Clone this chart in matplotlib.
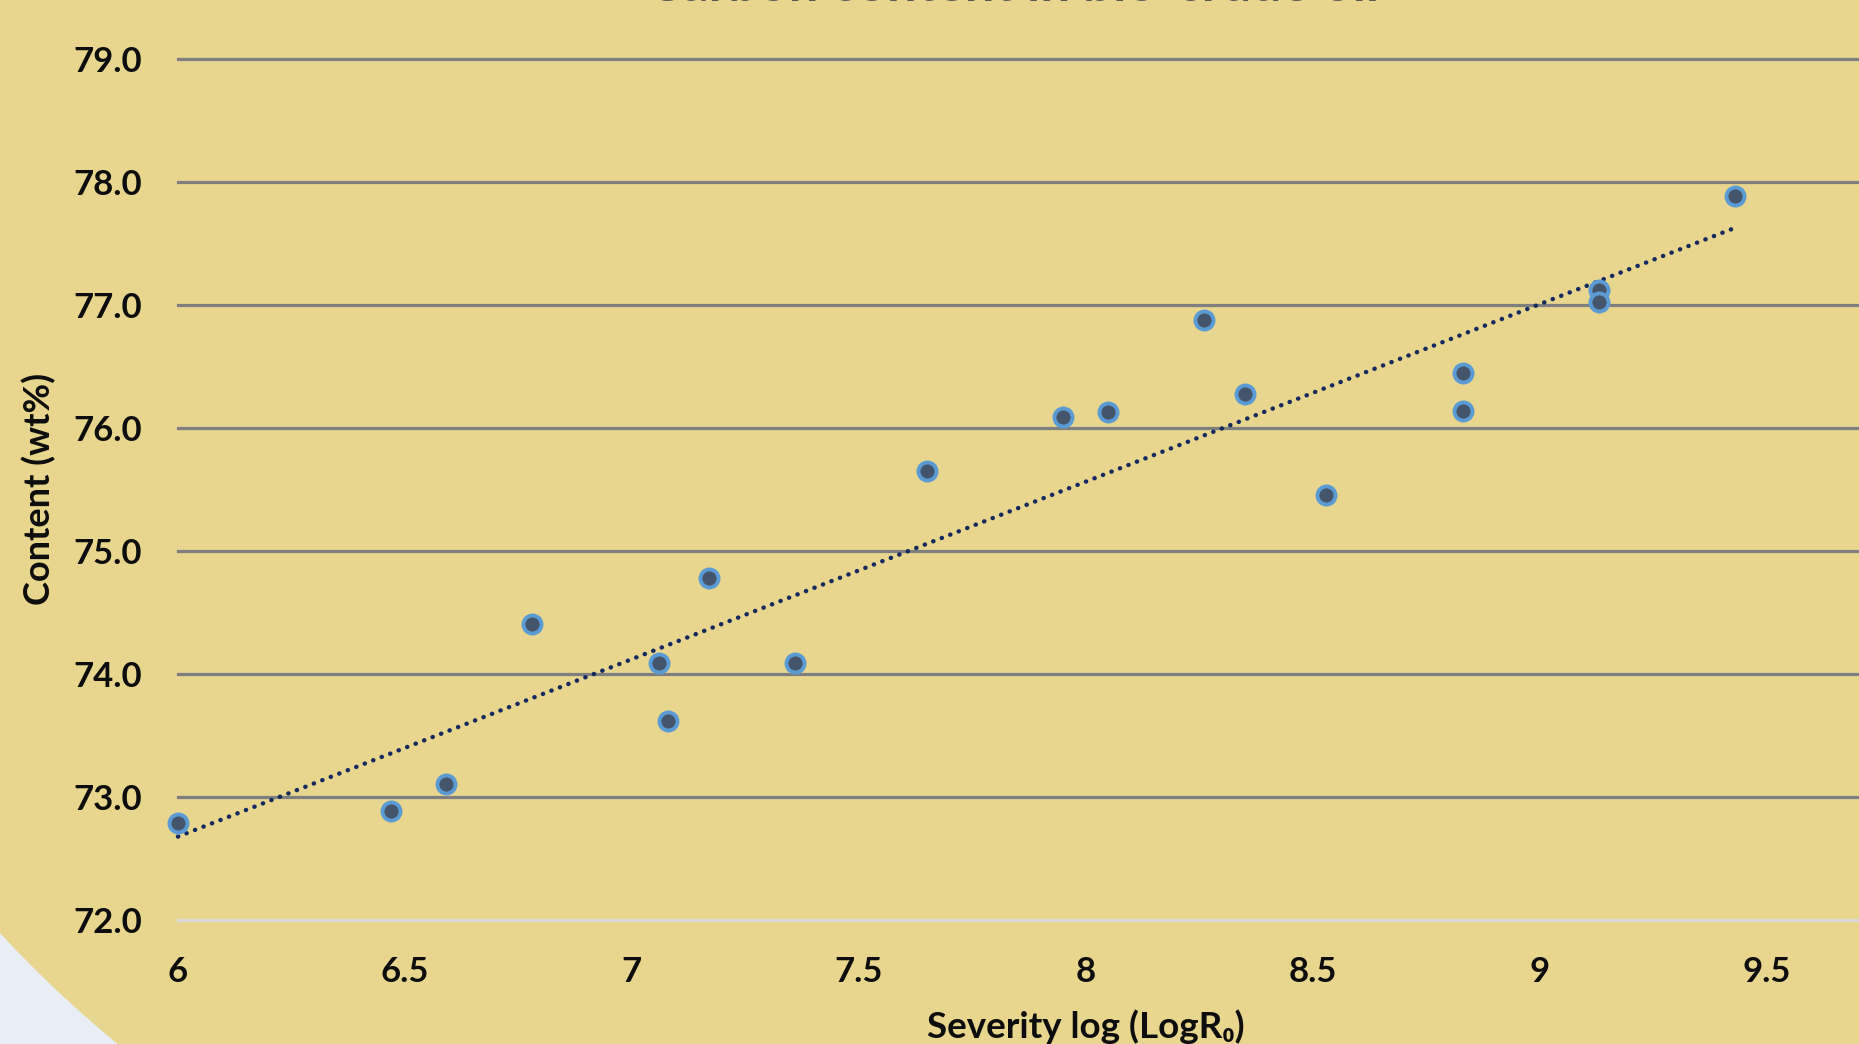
import numpy as np
import matplotlib
matplotlib.use("Agg")
import matplotlib.pyplot as plt
from matplotlib.patches import Ellipse

# ---- data ----
severity = [6.00, 6.47, 6.59, 6.78, 7.06, 7.08, 7.17, 7.36, 7.65, 7.95,
            8.05, 8.26, 8.35, 8.53, 8.83, 8.83, 9.13, 9.13, 9.43]
carbon = [72.79, 72.89, 73.11, 74.41, 74.09, 73.62, 74.78, 74.09, 75.65, 76.09,
          76.13, 76.88, 76.28, 75.46, 76.45, 76.14, 77.12, 77.03, 77.89]
x_ticks = [6, 6.5, 7, 7.5, 8, 8.5, 9, 9.5]
x_tick_labels = ["6", "6.5", "7", "7.5", "8", "8.5", "9", "9.5"]
y_ticks = [72.0, 73.0, 74.0, 75.0, 76.0, 77.0, 78.0, 79.0]
title = "Carbon content in bio-crude oil"
x_label = "Severity log (LogR\u2080)"
y_label = "Content (wt%)"

W, H = 1859, 1044
plt.rcParams['font.family'] = ['Lato', 'DejaVu Sans']
fig = plt.figure(figsize=(W / 100, H / 100), dpi=100)
fig.patch.set_facecolor("#e9edf5")

# big yellow ellipse of the slide background
ell = Ellipse((1100 / W, 1 - 300 / H), 2 * 1361 / W, 2 * 1075 / H,
              transform=fig.transFigure, facecolor="#e8d68e", edgecolor="none", zorder=-10)
fig.patches.append(ell)

left = 178 / W
bottom = (H - 920) / H
top = (H - 59.3) / H
ax = fig.add_axes([left, bottom, 1 - left, top - bottom])
ax.set_zorder(1)
ax.set_facecolor("none")
ax.patch.set_alpha(0)
ax.set_xlim(6, 6 + (W - 178) / 453.9)
ax.set_ylim(72, 79)
for s in ax.spines.values():
    s.set_visible(False)

for yv in y_ticks:
    col = "#d9d9d9" if yv == y_ticks[0] else "#7f7f7f"
    ax.axhline(yv, color=col, lw=2.3, clip_on=False, zorder=1)

ax.set_xticks(x_ticks)
ax.set_xticklabels(x_tick_labels)
ax.set_yticks(y_ticks)
ax.set_yticklabels([f"{v:.1f}" for v in y_ticks])
ax.tick_params(axis="x", length=0, pad=26, labelsize=25)
ax.tick_params(axis="y", length=0, pad=26, labelsize=25)
for lab in ax.get_xticklabels() + ax.get_yticklabels():
    lab.set_fontweight("bold")
    lab.set_color("#0d0d0d")

# trendline
xs = np.array(severity)
ys = np.array(carbon)
k, b = np.polyfit(xs, ys, 1)
xl = np.array([xs.min(), xs.max()])
ax.plot(xl, k * xl + b, color="#14295e", lw=3.2, linestyle=(0, (0.05, 2.0)),
        dash_capstyle="round", zorder=2, clip_on=False)

ax.plot(severity, carbon, linestyle="none", marker="o", markersize=13,
        markerfacecolor="#44546a", markeredgecolor="#5b9bd5", markeredgewidth=2.8,
        zorder=3, clip_on=False)

fig.text(1086 / W, 1 - 1027 / H, x_label, ha="center", va="center",
         fontsize=26.5, fontweight="bold", color="#0d0d0d")
fig.text(39 / W, 1 - 489 / H, y_label, ha="center", va="center", rotation=90,
         fontsize=26, fontweight="bold", color="#0d0d0d")
fig.text(1013 / W, 1 - 1 / H, title, ha="center", va="baseline",
         fontsize=38, fontweight="bold", color="#595959")

fig.savefig("out.png", dpi=100, facecolor=fig.get_facecolor())
